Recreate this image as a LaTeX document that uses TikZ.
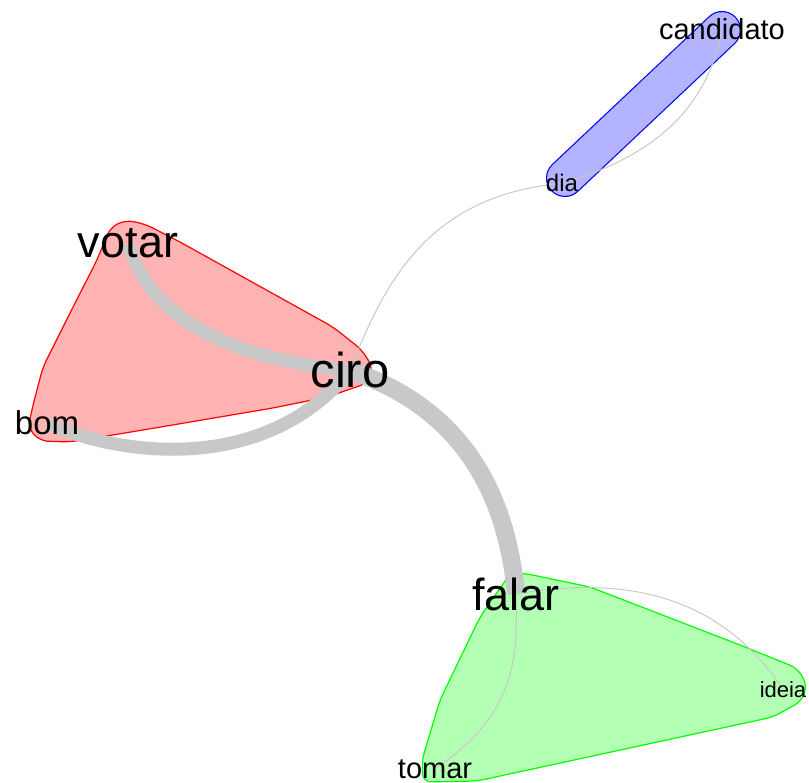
\documentclass[tikz,border=0pt]{standalone}
\usepackage{fontspec}
\setmainfont{Liberation Sans}
\usetikzlibrary{calc}
\pgfdeclarelayer{background}
\pgfsetlayers{background,main}
\definecolor{hullred}{RGB}{255,179,179}
\definecolor{hullgreen}{RGB}{179,255,179}
\definecolor{hullblue}{RGB}{179,179,255}
\definecolor{edgegray}{RGB}{200,200,200}
\begin{document}
\begin{tikzpicture}[x=1pt,y=-1pt,
  word/.style={inner sep=0pt, anchor=base, text=black, font=\fontsize{#1}{#1}\selectfont},
  heavy/.style={draw=edgegray, line width=#1},
  light/.style={draw=edgegray, line width=1pt},
  hull/.style={line width=1.2pt, rounded corners=8pt, line join=round}
]
\useasboundingbox (0,0) rectangle (809,783);

% word nodes (placed by baseline)
\node[word=49] (ciro)      at (350,388) {ciro};
\node[word=45] (votar)     at (128,258) {votar};
\node[word=33] (bom)       at (47,435)  {bom};
\node[word=45] (falar)     at (516,610) {falar};
\node[word=29] (tomar)     at (435,778) {tomar};
\node[word=22] (ideia)     at (783,697) {ideia};
\node[word=29] (candidato) at (722,40)  {candidato};
\node[word=24] (dia)       at (562,192) {dia};

\begin{pgfonlayer}{background}
  % cluster hulls
  \draw[hull, draw=red, fill=hullred]
    (110,228) -- (125,220) -- (145,224) -- (180,242) -- (333,327) -- (362,350)
    -- (373,368) -- (368,383) -- (327,397) -- (273,408) -- (137,431) -- (70,442)
    -- (40,441) -- (28,428) -- (33,405) -- (43,367) -- (70,313) -- (97,260) -- cycle;
  \draw[hull, draw=green, fill=hullgreen]
    (510,574) -- (523,573) -- (590,587) -- (740,645) -- (797,668) -- (807,684)
    -- (802,701) -- (773,717) -- (477,781) -- (423,782) -- (422,760) -- (440,700)
    -- (480,617) -- cycle;
  \draw[blue, line width=38pt, line cap=round] (565,178) -- (722,30);
  \draw[hullblue, line width=35.6pt, line cap=round] (565,178) -- (722,30);

  % connectors
  \draw[heavy=13pt] (votar.center) .. controls (150,316) and (224,358) .. (ciro.center);
  \draw[heavy=13pt] (bom.center) .. controls (130,460) and (270,470) .. (ciro.center);
  \draw[heavy=18pt] (ciro.center) .. controls (450,404) and (505,478) .. (falar.center);
  \draw[light] (ciro.center) .. controls (385,280) and (430,195) .. (dia.center);
  \draw[light] (dia.center) .. controls (640,160) and (705,120) .. (candidato.center);
  \draw[light] (falar.center) .. controls (518,660) and (515,715) .. (tomar.center);
  \draw[light] (falar.center) .. controls (600,580) and (710,580) .. (ideia.center);
\end{pgfonlayer}
\end{tikzpicture}
\end{document}
